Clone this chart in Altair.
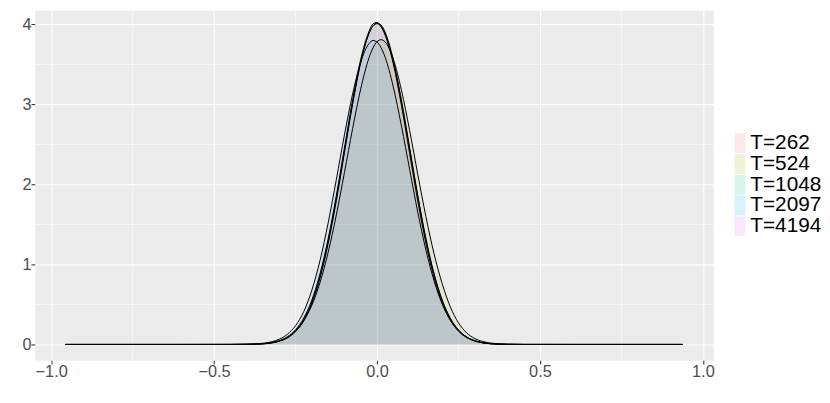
import altair as alt
import pandas as pd

# shared x grid of the density curves
x_grid = [-0.956, -0.6, -0.45, -0.4, -0.35, -0.325, -0.3, -0.275, -0.25, -0.225,
          -0.2, -0.175, -0.15, -0.125, -0.1, -0.075, -0.05, -0.025, -0.0125, 0.0,
          0.0125, 0.025, 0.05, 0.075, 0.1, 0.125, 0.15, 0.175, 0.2, 0.225,
          0.25, 0.275, 0.3, 0.325, 0.35, 0.4, 0.45, 0.6, 0.937]

t262 = [0, 0, 0.0002, 0.001, 0.008, 0.019, 0.043, 0.088, 0.171, 0.311,
        0.532, 0.854, 1.287, 1.822, 2.420, 3.018, 3.534, 3.885, 3.978, 4.010,
        3.978, 3.885, 3.534, 3.025, 2.440, 1.850, 1.310, 0.875, 0.548, 0.322,
        0.178, 0.093, 0.046, 0.021, 0.009, 0.0015, 0.0002, 0, 0]
t524 = [0, 0, 0.0003, 0.002, 0.0097, 0.0215, 0.045, 0.089, 0.167, 0.294,
        0.491, 0.773, 1.151, 1.619, 2.150, 2.698, 3.197, 3.579, 3.707, 3.785,
        3.810, 3.781, 3.567, 3.179, 2.677, 2.128, 1.599, 1.134, 0.760, 0.470,
        0.270, 0.145, 0.074, 0.036, 0.017, 0.003, 0.0005, 0, 0]
t1048 = [0, 0, 0.0002, 0.0015, 0.007, 0.017, 0.039, 0.081, 0.160, 0.296,
         0.512, 0.829, 1.259, 1.795, 2.398, 3.002, 3.525, 3.884, 3.985, 4.018,
         3.993, 3.902, 3.560, 3.055, 2.463, 1.864, 1.325, 0.886, 0.556, 0.328,
         0.182, 0.095, 0.047, 0.022, 0.010, 0.002, 0.0003, 0, 0]
t2097 = [0, 0, 0.0006, 0.003, 0.015, 0.032, 0.066, 0.128, 0.235, 0.410,
         0.680, 1.050, 1.520, 2.060, 2.620, 3.130, 3.530, 3.760, 3.800, 3.780,
         3.710, 3.590, 3.220, 2.730, 2.190, 1.655, 1.180, 0.795, 0.505, 0.302,
         0.170, 0.090, 0.045, 0.021, 0.009, 0.0015, 0.0002, 0, 0]
t4194 = [0, 0, 0.0003, 0.002, 0.010, 0.022, 0.048, 0.096, 0.184, 0.330,
         0.556, 0.885, 1.322, 1.860, 2.460, 3.058, 3.566, 3.911, 4.008, 4.025,
         3.970, 3.865, 3.506, 2.985, 2.386, 1.792, 1.262, 0.834, 0.518, 0.302,
         0.166, 0.086, 0.042, 0.019, 0.008, 0.001, 0.0001, 0, 0]

labels = ["T=262", "T=524", "T=1048", "T=2097", "T=4194"]
colors = ["#F8766D", "#A3A500", "#00BF7D", "#00B0F6", "#E76BF3"]
series = [t262, t524, t1048, t2097, t4194]

x_major = [-1.0, -0.5, 0.0, 0.5, 1.0]
x_minor = [-0.75, -0.25, 0.25, 0.75]
y_major = [0, 1, 2, 3, 4]
y_minor = [0.5, 1.5, 2.5, 3.5]

rows = []
for lab, ys in zip(labels, series):
    for xv, yv in zip(x_grid, ys):
        rows.append({"x": xv, "y": yv, "T": lab})
df = pd.DataFrame(rows)

xscale = alt.Scale(domain=[-1.0506, 1.0317], nice=False, zero=False)
yscale = alt.Scale(domain=[-0.198, 4.179], nice=False, zero=False)
xaxis = alt.Axis(values=x_major, format=".1f", title=None)
yaxis = alt.Axis(values=y_major, format="d", title=None)

vminor = alt.Chart(pd.DataFrame({"x": x_minor})).mark_rule(
    color="white", strokeWidth=0.55
).encode(x=alt.X("x:Q", scale=xscale, axis=xaxis))

hminor = alt.Chart(pd.DataFrame({"y": y_minor})).mark_rule(
    color="white", strokeWidth=0.55
).encode(y=alt.Y("y:Q", scale=yscale, axis=yaxis))

legend = alt.Legend(
    title=None,
    orient="none",
    legendX=702.5,
    legendY=124,
    padding=0,
    symbolType="M-0.55,-1H0.55V1H-0.55Z",
    symbolSize=400,
    symbolOpacity=0.16,
    symbolStrokeWidth=0,
    rowPadding=-1.1,
    labelOffset=0,
    labelFontSize=21,
    labelFont="Liberation Sans",
    labelColor="black",
)

area = alt.Chart(df).mark_area(fillOpacity=0.1, interpolate="monotone").encode(
    x=alt.X("x:Q", scale=xscale, axis=xaxis),
    y=alt.Y("y:Q", scale=yscale, axis=yaxis),
    y2=alt.datum(0),
    color=alt.Color("T:N", scale=alt.Scale(domain=labels, range=colors),
                    sort=labels, legend=legend),
)

line = alt.Chart(df).mark_line(color="black", strokeWidth=1.0,
                               interpolate="monotone").encode(
    x=alt.X("x:Q", scale=xscale, axis=xaxis),
    y=alt.Y("y:Q", scale=yscale, axis=yaxis),
    detail="T:N",
)

chart = alt.layer(vminor, hminor, area, line).properties(
    width=686,
    height=354,
    autosize=alt.AutoSizeParams(type="none"),
    padding={"left": 27, "top": 0, "right": 110, "bottom": 41},
).configure_view(
    fill="#EBEBEB", strokeOpacity=0
).configure_axis(
    grid=True,
    gridColor="white",
    gridWidth=1.1,
    domain=False,
    tickColor="#333333",
    tickSize=3.7,
    tickWidth=1.07,
    labelColor="#4D4D4D",
    labelFont="Liberation Sans",
    labelFontSize=16.5,
    labelPadding=0,
)

chart.save("out.html", embed_options={"renderer": "svg", "actions": False})
